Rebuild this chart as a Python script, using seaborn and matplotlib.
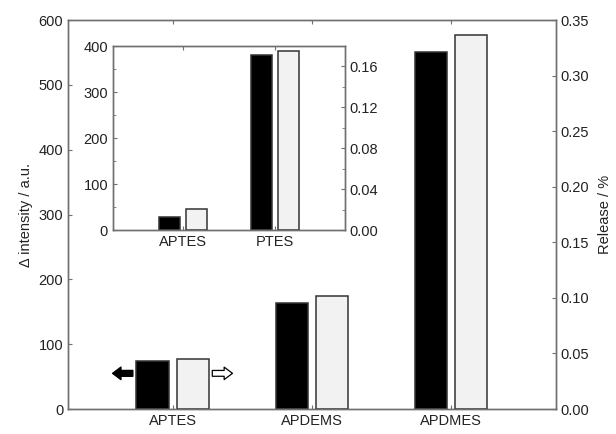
import matplotlib
matplotlib.use("Agg")
import matplotlib.pyplot as plt
from matplotlib.ticker import MultipleLocator
import pandas as pd
import seaborn as sns

# Main chart values
categories = ["APTES", "APDEMS", "APDMES"]
intensity = [74, 164, 551]
release = [0.045, 0.102, 0.337]

# Inset values
inset_categories = ["APTES", "PTES"]
inset_intensity = [29, 380]
inset_release = [0.021, 0.175]

sns.set_style("ticks")
plt.rcParams["font.family"] = ["Liberation Sans", "DejaVu Sans"]
plt.rcParams["font.size"] = 10.5

spine_col = "#707070"
text_col = "#222222"
palette = {"intensity": "black", "release": "#f2f2f2"}
hue_order = ["intensity", "release"]


def make_df(cats, inten, rel):
    df = pd.DataFrame({"category": cats, "intensity": inten, "release": rel})
    return df.melt(id_vars="category", var_name="measure", value_name="value")


def style_axis(a):
    for s in a.spines.values():
        s.set_color(spine_col)
        s.set_linewidth(1.0)
        s.set_visible(True)
    a.tick_params(which="both", direction="in", color=spine_col, labelcolor=text_col,
                  labelsize=10.5, length=3)
    a.tick_params(which="minor", length=2)


def draw_pair(ax, ax2, df, ylim_left, ylim_right):
    # black bars on the left scale, light bars on the right scale, dodged side by side
    sns.barplot(data=df[df["measure"] == "intensity"], x="category", y="value", hue="measure",
                hue_order=hue_order, palette=palette, edgecolor="#333333", linewidth=1.1,
                width=0.575, gap=0.2, dodge=True, legend=False, ax=ax)
    sns.barplot(data=df[df["measure"] == "release"], x="category", y="value", hue="measure",
                hue_order=hue_order, palette=palette, edgecolor="#333333", linewidth=1.1,
                width=0.575, gap=0.2, dodge=True, legend=False, ax=ax2)
    ax.set_ylim(*ylim_left)
    ax2.set_ylim(*ylim_right)
    for a in (ax, ax2):
        a.set_xlabel("")
        a.set_ylabel("")


fig = plt.figure(figsize=(6.16, 4.34), dpi=100)

# Main axes
ax = fig.add_axes([0.1104, 0.0576, 0.792, 0.896])
ax2 = ax.twinx()
draw_pair(ax, ax2, make_df(categories, intensity, release), (0, 600), (0, 0.35))
ax.set_xlim(-0.75, 2.75)
ax.yaxis.set_major_locator(MultipleLocator(100))
ax2.yaxis.set_major_locator(MultipleLocator(0.05))
ax2.yaxis.set_major_formatter(plt.FormatStrFormatter("%.2f"))
style_axis(ax)
style_axis(ax2)
ax.tick_params(axis="x", top=True, length=3)
ax.set_ylabel("\u0394 intensity / a.u.", color=text_col, fontsize=10.5)
ax2.set_ylabel("Release / %", color=text_col, fontsize=10.5, rotation=90, labelpad=6)

# Arrows showing which axis each series belongs to
arrow_y = 55
arrow_style = "simple,head_length=0.6,head_width=0.9,tail_width=0.42"
ax.annotate("", xy=(-0.43, arrow_y), xytext=(-0.285, arrow_y),
            arrowprops=dict(arrowstyle=arrow_style, fc="black", ec="black",
                            mutation_scale=10, shrinkA=0, shrinkB=0))
ax.annotate("", xy=(0.43, arrow_y), xytext=(0.285, arrow_y),
            arrowprops=dict(arrowstyle=arrow_style, fc="white", ec="black", lw=0.9,
                            mutation_scale=10, shrinkA=0, shrinkB=0))

# Inset axes
axi = fig.add_axes([0.1834, 0.470, 0.3766, 0.424])
axi2 = axi.twinx()
draw_pair(axi, axi2, make_df(inset_categories, inset_intensity, inset_release),
          (0, 400), (0, 0.18))
axi.set_xlim(-0.76, 1.76)
axi.yaxis.set_major_locator(MultipleLocator(100))
axi.yaxis.set_minor_locator(MultipleLocator(50))
axi2.yaxis.set_major_locator(MultipleLocator(0.04))
axi2.yaxis.set_minor_locator(MultipleLocator(0.02))
axi2.yaxis.set_major_formatter(plt.FormatStrFormatter("%.2f"))
style_axis(axi)
style_axis(axi2)
axi.tick_params(axis="x", top=True, length=3)

fig.savefig("out.png", dpi=100)
